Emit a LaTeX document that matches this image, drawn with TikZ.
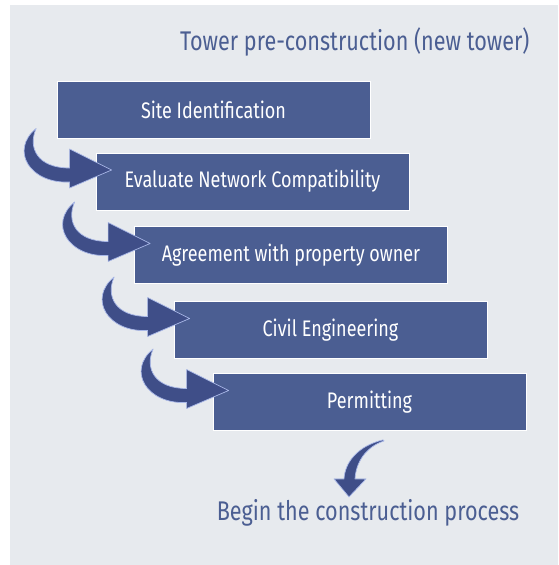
\documentclass[tikz,border=0pt]{standalone}
\usepackage{fontspec}
\setmainfont{Fira Sans}[FakeStretch=0.8]

\definecolor{boxblue}{HTML}{4B5E92}
\definecolor{arrowblue}{HTML}{3F4E88}
\definecolor{glowblue}{HTML}{A9B8E8}
\definecolor{panelgrey}{HTML}{E7EAEE}

\tikzset{
    stepbox/.style={draw=white, line width=0.8pt, fill=boxblue, text=white,
        minimum width=313pt, minimum height=57pt, inner sep=0pt, font=\fontsize{22.5}{26}\selectfont},
    bendarrow/.style={fill=arrowblue, draw=glowblue, line width=0.7pt, line join=round}
}

\begin{document}
\begin{tikzpicture}[x=1pt, y=-1pt]

    % Panel
    \useasboundingbox (0,0) rectangle (558,565);
    \fill[panelgrey] (10,5) rectangle (558,565);

    % Title
    \node[anchor=base east, text=boxblue, font=\fontsize{27}{30}\selectfont] (title) at (533,50) {Tower pre-construction (new tower)};

    %%%% Steps
    \node[stepbox] (s1) at (213.5,109.5) {Site Identification};
    \node[stepbox] (s2) at (252.5,181.5) {Evaluate Network Compatibility};
    \node[stepbox] (s3) at (291,255) {Agreement with property owner};
    \node[stepbox] (s4) at (330.5,330) {Civil Engineering};
    \node[stepbox] (s5) at (369.5,402) {Permitting};

    % Curved arrows into the next step
    \foreach \j in {2,...,5} {
        \draw[bendarrow, shift={(s\j.west)}]
            (-59.5,-53) .. controls (-68,-33.5) and (-58,-13.5) .. (-26,-13.5)
            -- (-26,-32.5) -- (16,-11.5) -- (-26,6.5) -- (-26,0.5)
            .. controls (-66,2.5) and (-86,-31.5) .. (-59.5,-53) -- cycle;
    }

    % End
    \node[text=boxblue, font=\fontsize{27}{30}\selectfont] (done) at (368,513) {Begin the construction process};
    \draw[bendarrow, shift={(s5.south)}]
        (13.5,9) .. controls (-11.5,15) and (-24.5,31) .. (-25.5,48)
        -- (-35.5,48) -- (-20.5,66) -- (-3.5,48) -- (-14.5,48)
        .. controls (-13.5,31) and (-3.5,16) .. (14.5,10) -- cycle;

\end{tikzpicture}
\end{document}
